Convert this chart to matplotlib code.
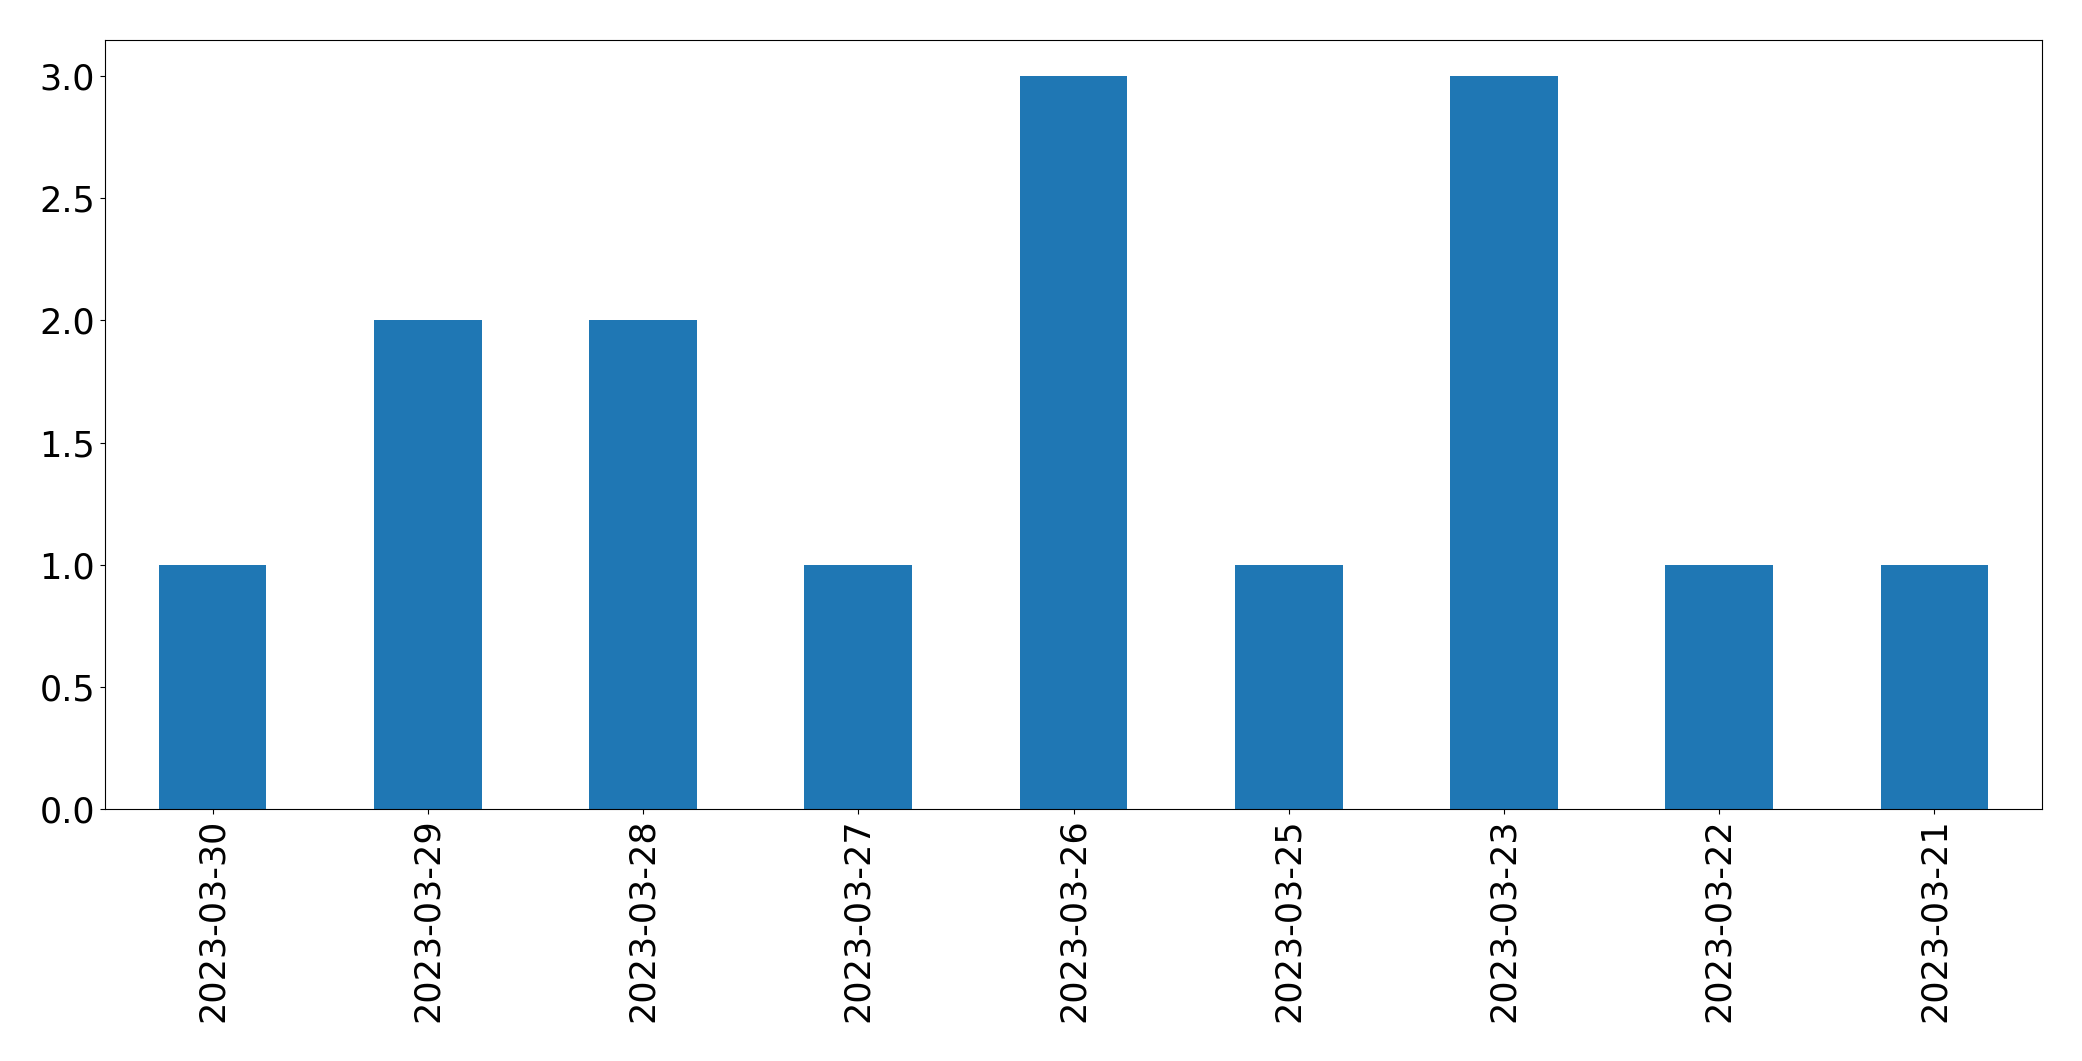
import matplotlib
matplotlib.use("Agg")
import matplotlib.pyplot as plt

dates = ["2023-03-30", "2023-03-29", "2023-03-28", "2023-03-27", "2023-03-26",
         "2023-03-25", "2023-03-23", "2023-03-22", "2023-03-21"]
counts = [1, 2, 2, 1, 3, 1, 3, 1, 1]

W, H = 2082, 1061
fig = plt.figure(figsize=(W / 100, H / 100), dpi=100)
ax = fig.add_axes([105 / W, (H - 809) / H, (2042 - 105) / W, (809 - 39.5) / H])
x = list(range(len(dates)))
ax.bar(x, counts, width=0.5, color="#1f77b4")
ax.set_xlim(-0.5, len(dates) - 0.5)
ax.set_ylim(0, 3.15)
ax.set_xticks(x)
ax.set_xticklabels(dates, rotation=90, fontsize=25.2)
ax.set_yticks([0, 0.5, 1.0, 1.5, 2.0, 2.5, 3.0])
ax.set_yticklabels(["0.0", "0.5", "1.0", "1.5", "2.0", "2.5", "3.0"], fontsize=25.2)
fig.savefig("out.png", dpi=100)
